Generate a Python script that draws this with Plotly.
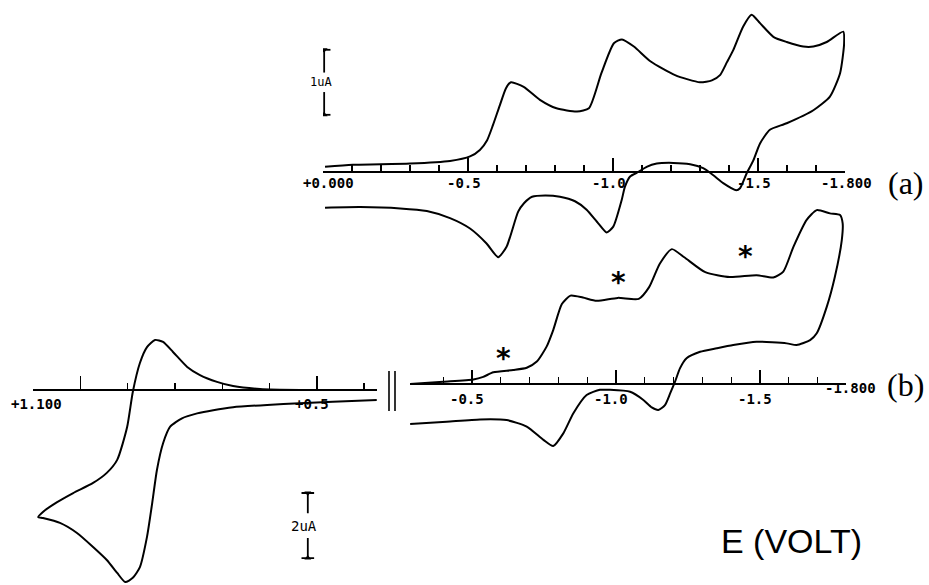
import plotly.graph_objects as go

# ---------------- data (potential in V, current in uA) ----------------
# (a) forward sweep
A_fwd_V = [-0.007, -0.103, -0.300, -0.438, -0.507, -0.541, -0.566, -0.586, -0.610, -0.631,
           -0.648, -0.692, -0.748, -0.805, -0.876, -0.917, -0.960, -1.003, -1.031, -1.072,
           -1.130, -1.214, -1.300, -1.341, -1.369, -1.393, -1.415, -1.449, -1.478, -1.507,
           -1.553, -1.599, -1.656, -1.691, -1.737, -1.794]
A_fwd_I = [0.08, 0.11, 0.13, 0.17, 0.24, 0.34, 0.49, 0.72, 1.03, 1.29,
           1.38, 1.31, 1.11, 0.98, 0.93, 0.98, 1.52, 1.98, 2.04, 1.93,
           1.70, 1.49, 1.38, 1.41, 1.49, 1.69, 1.88, 2.24, 2.42, 2.29,
           2.08, 2.00, 1.93, 1.93, 2.00, 2.16]
# (a) reverse sweep
A_rev_V = [-1.797, -1.783, -1.748, -1.691, -1.599, -1.541, -1.507, -1.484, -1.461, -1.438,
           -1.425, -1.380, -1.346, -1.311, -1.266, -1.208, -1.151, -1.116, -1.087, -1.059,
           -1.041, -1.030, -1.001, -0.978, -0.949, -0.909, -0.869, -0.817, -0.766, -0.721,
           -0.693, -0.673, -0.633, -0.604, -0.564, -0.507, -0.438, -0.358, -0.266, -0.128,
           -0.007]
A_rev_I = [1.98, 1.52, 1.16, 0.95, 0.75, 0.65, 0.44, 0.18, -0.02, -0.25,
           -0.28, -0.17, -0.05, 0.06, 0.12, 0.14, 0.13, 0.08, 0.00, -0.07,
           -0.23, -0.43, -0.84, -0.93, -0.79, -0.58, -0.45, -0.38, -0.36, -0.38,
           -0.48, -0.61, -1.15, -1.31, -1.10, -0.87, -0.71, -0.60, -0.56, -0.54,
           -0.55]

# (b) negative region, forward sweep
B_fwd_V = [-0.285, -0.400, -0.505, -0.539, -0.574, -0.643, -0.690, -0.725, -0.759, -0.782,
           -0.812, -0.842, -0.885, -0.933, -1.006, -1.079, -1.115, -1.152, -1.194, -1.237,
           -1.310, -1.395, -1.488, -1.546, -1.581, -1.616, -1.662, -1.697, -1.743, -1.778,
           -1.787]
B_fwd_I = [0.00, 0.07, 0.14, 0.22, 0.36, 0.43, 0.50, 0.69, 1.15, 1.66,
           2.46, 2.72, 2.66, 2.56, 2.65, 2.62, 2.98, 3.70, 4.15, 3.90,
           3.44, 3.29, 3.35, 3.28, 3.46, 4.22, 5.05, 5.35, 5.25, 5.20,
           4.94]
# (b) negative region, reverse sweep
B_rev_V = [-1.784, -1.760, -1.732, -1.697, -1.674, -1.627, -1.593, -1.488, -1.407, -1.350,
           -1.292, -1.245, -1.222, -1.205, -1.188, -1.170, -1.147, -1.124, -1.095, -1.049,
           -0.979, -0.944, -0.898, -0.852, -0.817, -0.782, -0.748, -0.690, -0.620, -0.528,
           -0.412, -0.285]
B_rev_I = [4.43, 3.30, 2.38, 1.56, 1.35, 1.20, 1.25, 1.30, 1.20, 1.10,
           0.99, 0.79, 0.48, 0.07, -0.29, -0.65, -0.80, -0.72, -0.49, -0.24,
           -0.18, -0.18, -0.34, -0.90, -1.52, -1.91, -1.72, -1.31, -1.11, -1.09,
           -1.16, -1.23]

# (b) positive region (oxidation wave)
L_V = [0.373, 0.536, 0.620, 0.677, 0.711, 0.747, 0.774, 0.804, 0.825, 0.842,
       0.859, 0.874, 0.889, 0.901, 0.922, 0.944, 0.973, 1.015, 1.049, 1.079,
       1.089, 1.079, 1.043, 1.007, 0.973, 0.944, 0.922, 0.905, 0.889, 0.874,
       0.859, 0.848, 0.838, 0.825, 0.810, 0.785, 0.753, 0.719, 0.677, 0.605,
       0.536, 0.466, 0.373]
L_I = [0.00, 0.00, 0.03, 0.12, 0.25, 0.46, 0.71, 1.17, 1.48, 1.54,
       1.32, 0.83, -0.06, -1.14, -2.15, -2.55, -2.86, -3.17, -3.45, -3.75,
       -3.91, -3.94, -4.09, -4.40, -4.83, -5.23, -5.63, -5.91, -5.78, -5.45,
       -4.52, -3.48, -2.46, -1.64, -1.13, -0.87, -0.72, -0.62, -0.53, -0.46,
       -0.41, -0.36, -0.31]

# asterisk marks on (b)
STAR_V = [-0.608, -1.007, -1.451]
STAR_I = [0.98, 3.32, 4.11]

# ticks
A_major = [0.0, -0.5, -1.0, -1.5, -1.8]
A_labels = ["+0.000", "-0.5", "-1.0", "-1.5", "-1.800"]
A_minor = [-0.1, -0.2, -0.3, -0.4, -0.6, -0.7, -0.8, -0.9, -1.1, -1.2, -1.3, -1.4, -1.6, -1.7]
B_major = [-0.5, -1.0, -1.5, -1.8]
B_labels = ["-0.5", "-1.0", "-1.5", "-1.800"]
B_minor = [-0.4, -0.6, -0.7, -0.8, -0.9, -1.1, -1.2, -1.3, -1.4, -1.6, -1.7]
L_major = [1.1, 1.0, 0.5]
L_label_vals = [1.1, 0.5]
L_labels = ["+1.100", "+0.5"]
L_minor = [0.9, 0.8, 0.7, 0.6, 0.4]

# current scale bars
A_BAR_V = -0.004
A_BAR_I = [0.88, 1.88]
A_BAR_TEXT = "1uA"
L_BAR_V = 0.519
L_BAR_I = [-5.17, -3.17]
L_BAR_TEXT = "2uA"

# ---------------- layout geometry (pixels) ----------------
W, H = 929, 585


def fy(p):
    return (H - p) / H


PANELS = {
    "a": dict(a=323.0, b=290.0, vr=[0.0, -1.8], y0=172.0, k=65.0, ir=[-1.6, 2.6], n=""),
    "b": dict(a=328.0, b=288.0, vr=[-0.285, -1.8], y0=384.0, k=32.5, ir=[-2.6, 5.9], n="2"),
    "l": dict(a=553.3, b=473.0, vr=[1.1, 0.373], y0=390.0, k=32.5, ir=[-6.0, 1.9], n="3"),
}

fig = go.Figure()
LINE = dict(color="black", width=2.0, shape="spline", smoothing=0.6)


def axnames(p):
    n = PANELS[p]["n"]
    return "x" + n, "y" + n


xa, ya = axnames("a")
fig.add_trace(go.Scatter(x=A_fwd_V + A_rev_V, y=A_fwd_I + A_rev_I, mode="lines",
                         line=LINE, xaxis=xa, yaxis=ya, hoverinfo="skip"))
xb, yb = axnames("b")
fig.add_trace(go.Scatter(x=B_fwd_V + B_rev_V, y=B_fwd_I + B_rev_I, mode="lines",
                         line=LINE, xaxis=xb, yaxis=yb, hoverinfo="skip"))
xl, yl = axnames("l")
fig.add_trace(go.Scatter(x=L_V, y=L_I, mode="lines",
                         line=LINE, xaxis=xl, yaxis=yl, hoverinfo="skip"))


# scale bars
def scale_bar(xname, yname, v, ilims, text, gap_frac, fsize, xshift):
    lo, hi = ilims
    span = hi - lo
    mid = (lo + hi) / 2
    g = span * gap_frac / 2
    fig.add_trace(go.Scatter(x=[v, v, None, v, v], y=[lo, mid - g, None, mid + g, hi],
                             mode="lines", line=dict(color="black", width=1.8),
                             xaxis=xname, yaxis=yname, hoverinfo="skip"))
    fig.add_trace(go.Scatter(x=[v, v], y=[hi, lo], mode="markers",
                             marker=dict(symbol=["triangle-down", "triangle-up"], size=6,
                                         color="black"),
                             xaxis=xname, yaxis=yname, hoverinfo="skip"))
    fig.add_trace(go.Scatter(x=[v, v], y=[hi, lo], mode="markers",
                             marker=dict(symbol="line-ew", size=9,
                                         line=dict(color="black", width=1.8)),
                             xaxis=xname, yaxis=yname, hoverinfo="skip"))
    fig.add_annotation(x=v, y=mid, xref=xname, yref=yname, text=text, showarrow=False,
                       font=dict(family="DejaVu Sans Mono", size=fsize, color="black"),
                       xshift=xshift)


scale_bar(xa, ya, A_BAR_V, A_BAR_I, A_BAR_TEXT, 0.30, 12, -3)
scale_bar(xl, yl, L_BAR_V, L_BAR_I, L_BAR_TEXT, 0.38, 14, -4)

# stars
for v, i in zip(STAR_V, STAR_I):
    fig.add_annotation(x=v, y=i, xref=xb, yref=yb, text="<b>*</b>", showarrow=False,
                       font=dict(family="DejaVu Sans", size=28, color="black"), yshift=-6)

layout = {}
for key, p in PANELS.items():
    n = p["n"]
    x0 = (p["a"] - p["b"] * p["vr"][0]) / W
    x1 = (p["a"] - p["b"] * p["vr"][1]) / W
    ylo = fy(p["y0"] - p["k"] * p["ir"][0])
    yhi = fy(p["y0"] - p["k"] * p["ir"][1])
    major = {"a": A_major, "b": B_major, "l": L_major}[key]
    minor = {"a": A_minor, "b": B_minor, "l": L_minor}[key]
    layout["xaxis" + n] = dict(
        domain=[x0, x1], range=p["vr"], anchor="free", position=fy(p["y0"]),
        showline=True, linecolor="black", linewidth=2,
        ticks="inside", tickmode="array", tickvals=major, ticklen=13, tickwidth=1.6,
        tickcolor="black", showticklabels=False, showgrid=False, zeroline=False,
        minor=dict(tickmode="array", tickvals=minor, ticks="inside", ticklen=6,
                   tickwidth=1.4, tickcolor="black", showgrid=False),
        fixedrange=True)
    layout["yaxis" + n] = dict(domain=[ylo, yhi], range=p["ir"], anchor="x" + n,
                               visible=False, fixedrange=True)

fig.update_layout(**layout)

TICKFONT = dict(family="DejaVu Sans Mono", size=14, color="black")
# tick labels
for idx, (v, t) in enumerate(zip(A_major, A_labels)):
    xs = 5 if idx == 0 else (1 if idx == len(A_major) - 1 else -4)
    fig.add_annotation(x=v, y=0, xref=xa, yref=ya, text="<b>" + t + "</b>", showarrow=False,
                       font=TICKFONT, yshift=-11, xshift=xs)
for idx, (v, t) in enumerate(zip(B_major, B_labels)):
    last = idx == len(B_major) - 1
    fig.add_annotation(x=v, y=0, xref=xb, yref=yb, text="<b>" + t + "</b>", showarrow=False,
                       font=TICKFONT, yshift=-4 if last else -15, xshift=4 if last else -5)
for idx, (v, t) in enumerate(zip(L_label_vals, L_labels)):
    fig.add_annotation(x=v, y=0, xref=xl, yref=yl, text="<b>" + t + "</b>", showarrow=False,
                       font=TICKFONT, yshift=-14, xshift=4 if idx == 0 else -5)

# panel letters and axis title
fig.add_annotation(x=926 / W, y=fy(183), xref="paper", yref="paper", text="(a)",
                   showarrow=False, xanchor="right", yanchor="middle",
                   font=dict(family="Liberation Serif", size=32, color="black"))
fig.add_annotation(x=926 / W, y=fy(385), xref="paper", yref="paper", text="(b)",
                   showarrow=False, xanchor="right", yanchor="middle",
                   font=dict(family="Liberation Serif", size=32, color="black"))
fig.add_annotation(x=791 / W, y=fy(541), xref="paper", yref="paper", text="E (VOLT)",
                   showarrow=False, xanchor="center", yanchor="middle",
                   font=dict(family="Liberation Sans", size=34, color="black"))

# axis-break marks
for xp in (389, 395):
    fig.add_shape(type="line", xref="paper", yref="paper", x0=xp / W, x1=xp / W,
                  y0=fy(371), y1=fy(411), line=dict(color="black", width=1.6))

fig.update_layout(width=W, height=H, margin=dict(l=0, r=0, t=0, b=0),
                  paper_bgcolor="white", plot_bgcolor="rgba(0,0,0,0)",
                  showlegend=False)

fig.write_html("out.html", config={"displayModeBar": False, "staticPlot": True},
               post_script="document.body.style.margin='0';document.body.style.padding='0';")
